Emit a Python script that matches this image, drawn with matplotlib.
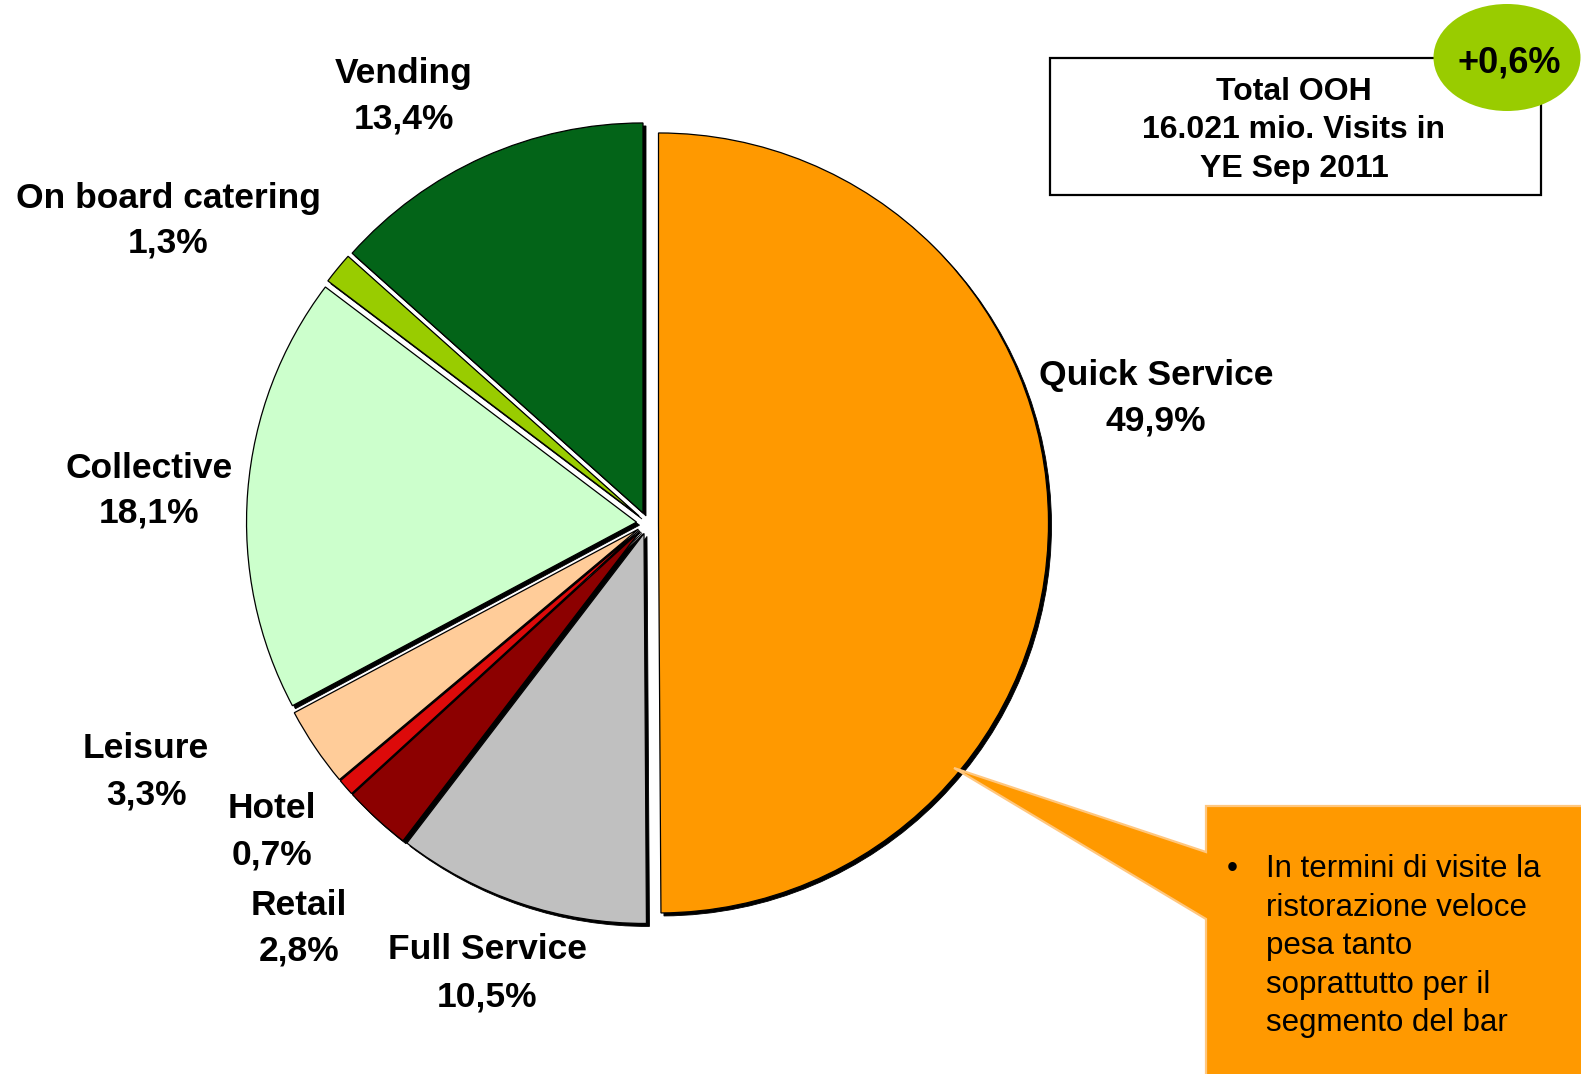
import matplotlib
matplotlib.use("Agg")
import matplotlib.pyplot as plt
import matplotlib.patches as mpatches
import matplotlib.transforms as mtransforms

plt.rcParams['font.family'] = ['Liberation Sans', 'DejaVu Sans']

# --- data -------------------------------------------------------------
categories = ["Quick Service", "Full Service", "Retail", "Hotel",
              "Leisure", "Collective", "On board catering", "Vending"]
shares = [49.9, 10.5, 2.8, 0.7, 3.3, 18.1, 1.3, 13.4]
slice_colors = ["#FF9900", "#C0C0C0", "#8C0000", "#DD0A0A",
                "#FFCC99", "#CCFFCC", "#99CC00", "#036418"]
total_lines = ["Total OOH", "16.021 mio. Visits in", "YE Sep 2011"]
growth_text = "+0,6%"
note_lines = ["In termini di visite la", "ristorazione veloce",
              "pesa tanto", "soprattutto per il", "segmento del bar"]

# --- layout (pixels) --------------------------------------------------
W, H = 1581, 1074
DPI = 100
PIE_CX, PIE_CY, PIE_R = 647.5, 523.0, 390.0
EXPLODE = 11.0
SHADOW_PX = 3.0

# label anchors: centre x, baseline of name, baseline of percentage
label_pos = {
    "Vending": (404, 83, 128),
    "On board catering": (168, 208, 253),
    "Collective": (149, 478, 523),
    "Leisure": (146, 758, 805),
    "Hotel": (272, 818, 865),
    "Retail": (299, 915, 961),
    "Full Service": (487, 959, 1007),
    "Quick Service": (1156, 385, 430),
}

fig = plt.figure(figsize=(W / DPI, H / DPI), dpi=DPI)
fig.patch.set_facecolor("white")

# pie axes: data units are pixels, y pointing up
ax = fig.add_axes([0, 0, 1, 1])
wedges, _ = ax.pie(shares, colors=slice_colors, startangle=90,
                   counterclock=False, radius=PIE_R,
                   center=(PIE_CX, H - PIE_CY),
                   explode=[EXPLODE] * len(shares),
                   wedgeprops=dict(edgecolor="black", linewidth=0.9))
ax.set_xlim(0, W)
ax.set_ylim(0, H)
ax.set_aspect("equal")
ax.axis("off")

# small black drop shadow behind each slice
shift = mtransforms.ScaledTranslation(SHADOW_PX / DPI, -SHADOW_PX / DPI,
                                      fig.dpi_scale_trans)
for w in wedges:
    sh = mpatches.Wedge(w.center, w.r, w.theta1, w.theta2,
                        facecolor="black", edgecolor="black", linewidth=0.6,
                        transform=ax.transData + shift, zorder=w.zorder - 0.5)
    ax.add_patch(sh)

# overlay axes for annotations: pixel coords, y pointing down
ov = fig.add_axes([0, 0, 1, 1])
ov.set_xlim(0, W)
ov.set_ylim(H, 0)
ov.axis("off")
ov.patch.set_alpha(0)

LABEL_FS = 25.5
for name, val in zip(categories, shares):
    x, y1, y2 = label_pos[name]
    pct = f"{val:.1f}%".replace(".", ",")
    ov.text(x, y1, name, ha="center", va="baseline", fontsize=LABEL_FS,
            fontweight="bold", color="black")
    ov.text(x, y2, pct, ha="center", va="baseline", fontsize=LABEL_FS,
            fontweight="bold", color="black")

# total box with growth bubble
ov.add_patch(mpatches.Rectangle((1050, 58), 491, 137, facecolor="white",
                                edgecolor="black", linewidth=1.6, zorder=3))
for txt, yb in zip(total_lines, [100, 138, 177]):
    ov.text(1294, yb, txt, ha="center", va="baseline", fontsize=23,
            fontweight="bold", color="black", zorder=4)
ov.add_patch(mpatches.Ellipse((1507, 57.5), 147, 107, facecolor="#99CC00",
                              edgecolor="none", zorder=5))
ov.text(1509, 73, growth_text, ha="center", va="baseline", fontsize=26,
        fontweight="bold", color="black", zorder=6)

# callout pointing at the Quick Service slice
callout = [(954, 768), (1206, 852), (1206, 806), (1600, 806), (1600, 1100),
           (1206, 1100), (1206, 919)]
ov.add_patch(mpatches.Polygon(callout, closed=True, facecolor="#FF9900",
                              edgecolor="#FFC77F", linewidth=1.6,
                              joinstyle="miter", zorder=3))
ov.text(1232, 877, "\u2022", ha="center", va="baseline", fontsize=22.5,
        color="black", zorder=4)
for i, line in enumerate(note_lines):
    ov.text(1266, 877 + i * 38.5, line, ha="left", va="baseline",
            fontsize=22.5, color="black", zorder=4)

fig.savefig("out.png", dpi=DPI, facecolor="white")
